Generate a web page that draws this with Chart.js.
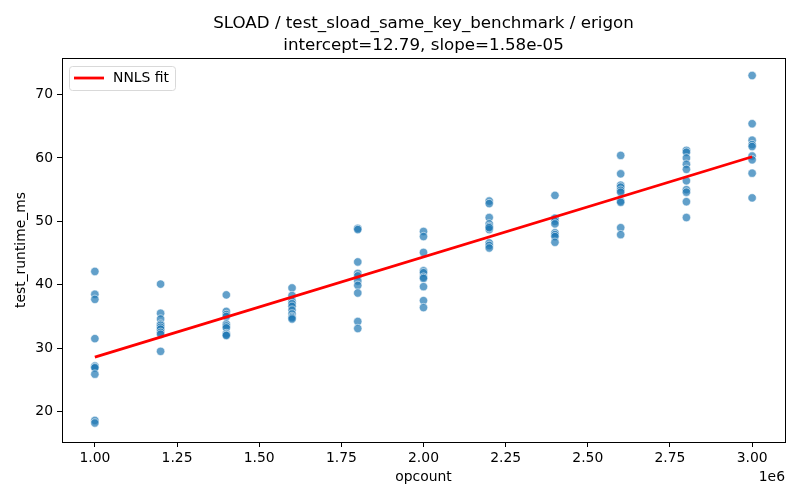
<!DOCTYPE html>
<html>
<head>
<meta charset="utf-8">
<script src="https://cdn.jsdelivr.net/npm/chart.js@4.4.1/dist/chart.umd.min.js"></script>
<style>
  html, body { margin: 0; padding: 0; background: #fff; }
  #wrap { width: 800px; height: 500px; }
</style>
</head>
<body>
<div id="wrap"><canvas id="myChart" width="800" height="500"></canvas></div>
<script>
// opcount levels and measured runtimes (ms) at each level
var opcounts = [1000000, 1200000, 1400000, 1600000, 1800000, 2000000, 2200000, 2400000, 2600000, 2800000, 3000000];
var run_1_0 = [42.1, 38.5, 37.7, 31.5, 27.2, 27.0, 26.9, 25.9, 18.6, 18.2];
var run_1_2 = [40.1, 35.5, 34.6, 33.8, 33.6, 33.3, 33.0, 32.5, 32.2, 29.5];
var run_1_4 = [38.4, 35.8, 35.3, 35.0, 33.8, 33.5, 33.2, 32.3, 32.1, 32.0];
var run_1_6 = [39.5, 38.3, 37.4, 37.0, 36.6, 36.0, 35.4, 35.0, 34.8, 34.6];
var run_1_8 = [48.9, 48.7, 43.6, 41.8, 41.4, 40.6, 39.9, 38.7, 34.2, 33.1];
var run_2_0 = [48.4, 47.6, 45.1, 42.2, 41.9, 41.2, 41.0, 39.7, 37.5, 36.4];
var run_2_2 = [53.2, 52.8, 50.6, 49.6, 49.2, 48.7, 46.6, 46.2, 45.8, 49.0];
var run_2_4 = [54.1, 50.5, 50.0, 49.6, 48.2, 47.9, 47.6, 46.7];
var run_2_6 = [60.4, 57.5, 55.7, 55.4, 54.9, 54.6, 53.2, 53.0, 49.0, 47.9];
var run_2_8 = [61.2, 60.9, 60.0, 59.0, 58.2, 56.4, 55.0, 54.6, 53.1, 50.6];
var run_3_0 = [73.0, 65.4, 62.8, 62.1, 61.8, 60.3, 59.7, 57.6, 53.7];
var runs = [run_1_0, run_1_2, run_1_4, run_1_6, run_1_8, run_2_0, run_2_2, run_2_4, run_2_6, run_2_8, run_3_0];

// NNLS fit endpoints (intercept=12.79, slope=1.58e-05)
var fitX = [1000000, 3000000];
var fitY = [28.59, 60.19];

var xTicks = [1000000, 1250000, 1500000, 1750000, 2000000, 2250000, 2500000, 2750000, 3000000];
var yTicks = [20, 30, 40, 50, 60, 70];

var titleLines = ["SLOAD / test_sload_same_key_benchmark / erigon", "intercept=12.79, slope=1.58e-05"];

var points = [];
opcounts.forEach(function (x, i) {
  runs[i].forEach(function (y) { points.push({x: x, y: y}); });
});
var fitPoints = fitX.map(function (x, i) { return {x: x, y: fitY[i]}; });

var FONT = "'DejaVu Sans', sans-serif";
Chart.defaults.color = "#000";
Chart.defaults.font.family = FONT;

// frame, offset text and in-axes legend, like matplotlib
var framePlugin = {
  id: "frame",
  afterDraw: function (chart) {
    var ctx = chart.ctx, a = chart.chartArea;
    ctx.save();
    ctx.strokeStyle = "#000";
    ctx.lineWidth = 1;
    ctx.strokeRect(Math.round(a.left) + 0.5, Math.round(a.top) + 0.5, Math.round(a.right - a.left), Math.round(a.bottom - a.top));

    ctx.font = "13.9px " + FONT;
    ctx.fillStyle = "#000";
    ctx.textAlign = "right";
    ctx.textBaseline = "middle";
    ctx.fillText("1e6", a.right, 477);

    // legend
    var lx = a.left + 7, ly = a.top + 8, lw = 106, lh = 24;
    ctx.beginPath();
    ctx.roundRect(lx + 0.5, ly + 0.5, lw, lh, 3);
    ctx.fillStyle = "rgba(255,255,255,0.8)";
    ctx.fill();
    ctx.strokeStyle = "#d9d9d9";
    ctx.stroke();
    ctx.beginPath();
    ctx.moveTo(lx + 5, ly + 12);
    ctx.lineTo(lx + 35, ly + 12);
    ctx.strokeStyle = "#ff0000";
    ctx.lineWidth = 2.8;
    ctx.stroke();
    ctx.fillStyle = "#000";
    ctx.textAlign = "left";
    ctx.fillText(chart.data.datasets[0].label, lx + 44, ly + 12.5);
    ctx.restore();
  }
};

new Chart("myChart", {
  type: "scatter",
  data: {
    datasets: [{
      type: "line",
      label: "NNLS fit",
      data: fitPoints,
      borderColor: "#ff0000",
      borderWidth: 2.8,
      pointRadius: 0,
      fill: false,
      order: 0
    }, {
      label: "runs",
      data: points,
      backgroundColor: "rgba(31,119,180,0.7)",
      borderColor: "rgba(255,255,255,0.7)",
      borderWidth: 0.8,
      pointRadius: 4.2,
      order: 1
    }]
  },
  plugins: [framePlugin],
  options: {
    responsive: false,
    animation: false,
    layout: {padding: {top: 0, right: 15, bottom: 0, left: 0}},
    plugins: {
      legend: {display: false},
      tooltip: {enabled: false},
      title: {
        display: true,
        fullSize: false,
        text: titleLines,
        color: "#000",
        font: {size: 16.7, weight: "normal", lineHeight: 1.3},
        padding: {top: 13, bottom: 1.6}
      }
    },
    scales: {
      x: {
        type: "linear",
        min: 900000,
        max: 3100000,
        afterBuildTicks: function (axis) { axis.ticks = xTicks.map(function (v) { return {value: v}; }); },
        afterFit: function (axis) { axis.height = 58; },
        ticks: {
          font: {size: 13.9},
          padding: 3,
          maxRotation: 0,
          callback: function (v) { return (v / 1e6).toFixed(2); }
        },
        grid: {drawOnChartArea: false, drawTicks: true, tickLength: 5, color: "#000"},
        border: {display: false},
        title: {display: true, text: "opcount", font: {size: 13.9}, padding: {top: 0, bottom: 14.5}}
      },
      y: {
        min: 15.2,
        max: 75.76,
        afterBuildTicks: function (axis) { axis.ticks = yTicks.map(function (v) { return {value: v}; }); },
        afterFit: function (axis) { axis.width = 62; },
        ticks: {font: {size: 13.9}, padding: 4},
        grid: {drawOnChartArea: false, drawTicks: true, tickLength: 5, color: "#000"},
        border: {display: false},
        title: {display: true, text: "test_runtime_ms", font: {size: 13.9}, padding: {top: 13.5, bottom: 0}}
      }
    }
  }
});
</script>
</body>
</html>
